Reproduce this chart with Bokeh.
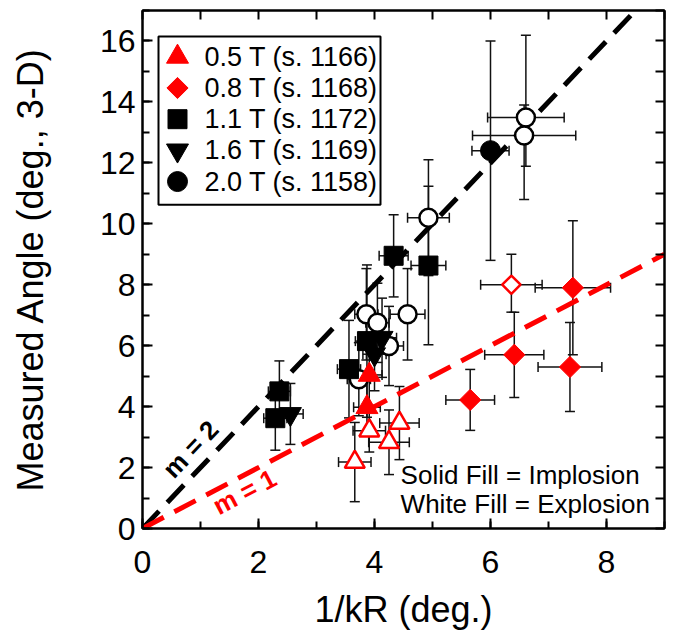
import math
from bokeh.plotting import figure
from bokeh.models import (ColumnDataSource, Whisker, TeeHead, Range1d, LinearAxis,
                          SingleIntervalTicker, Label, CustomJSTickFormatter)
from bokeh.core.properties import value
from bokeh.embed import file_html
from bokeh.resources import INLINE

FONT = "Liberation Sans"
RED = "#ff0000"
BLACK = "#000000"

# ---------------- data ----------------
labels = ["0.5 T (s. 1166)", "0.8 T (s. 1168)", "1.1 T (s. 1172)",
          "1.6 T (s. 1169)", "2.0 T (s. 1158)"]

x05 = [3.91, 3.87, 3.91, 4.43, 4.25, 3.66]
y05 = [5.04, 3.98, 3.21, 3.46, 2.83, 2.18]
xe05 = [0.22, 0.23, 0.28, 0.34, 0.35, 0.28]
ylo05 = [1.0, 0.9, 0.7, 1.2, 1.06, 1.3]
yhi05 = [1.0, 0.9, 0.7, 1.2, 1.06, 1.3]
open05 = [False, False, True, True, True, True]

x08 = [7.42, 6.41, 7.37, 5.65, 6.36]
y08 = [7.9, 5.70, 5.30, 4.22, 8.0]
xe08 = [0.65, 0.51, 0.55, 0.42, 0.53]
ylo08 = [2.2, 1.4, 1.46, 1.0, 0.9]
yhi08 = [2.2, 1.4, 1.46, 1.0, 1.0]
open08 = [False, False, False, False, True]

x11 = [2.36, 2.29, 3.56, 3.87, 4.33, 4.93]
y11 = [4.5, 3.62, 5.23, 6.15, 8.95, 8.63]
xe11 = [0.19, 0.2, 0.2, 0.2, 0.25, 0.3]
ylo11 = [1.0, 1.05, 1.6, 2.5, 1.35, 2.6]
yhi11 = [1.0, 1.05, 1.6, 2.5, 1.35, 2.6]
open11 = [False] * 6

x16 = [2.55, 4.13, 4.0]
y16 = [3.76, 6.26, 5.72]
xe16 = [0.22, 0.25, 0.2]
ylo16 = [1.0, 1.3, 1.2]
yhi16 = [1.0, 1.3, 1.2]
open16 = [False] * 3

x20 = [6.0, 6.61, 6.58, 4.93, 3.86, 4.57, 4.05, 4.25, 3.73]
y20 = [12.4, 13.49, 12.9, 10.2, 7.03, 7.03, 6.75, 5.99, 4.9]
xe20 = [0.32, 0.66, 0.89, 0.36, 0.2, 0.3, 0.2, 0.25, 0.2]
ylo20 = [3.6, 1.6, 2.1, 1.9, 1.5, 1.5, 1.3, 1.3, 1.2]
yhi20 = [3.6, 2.7, 1.0, 1.9, 1.5, 1.5, 1.3, 1.3, 1.2]
open20 = [False, True, True, True, True, True, True, True, True]

slopes = [2, 1]
slope_labels = ["m = 2", "m = 1"]
x_ref = [0, 9]

note1 = "Solid Fill = Implosion"
note2 = "White Fill = Explosion"
xlabel = "1/kR (deg.)"
ylabel = "Measured Angle (deg., 3-D)"

# ---------------- layout constants ----------------
W, H = 672, 632
BL, BR, BT, BB = 142, 8, 10, 102
FW, FH = W - BL - BR, H - BT - BB   # frame size in px

p = figure(width=W, height=H, x_range=Range1d(0, 9), y_range=Range1d(0, 17),
           output_backend="svg", toolbar_location=None,
           min_border_left=BL, min_border_right=BR, min_border_top=BT,
           min_border_bottom=BB)
p.grid.visible = False
p.outline_line_color = BLACK
p.outline_line_width = 2
p.background_fill_color = "white"
p.border_fill_color = "white"
# pixel-based helper ranges for the legend box (y measured downward from frame top)
p.extra_x_ranges = {"px": Range1d(0, FW)}
p.extra_y_ranges = {"px": Range1d(FH, 0)}

for ax, lab in ((p.xaxis[0], xlabel), (p.yaxis[0], ylabel)):
    ax.ticker = SingleIntervalTicker(interval=2, num_minor_ticks=2)
    ax.axis_label = lab
    ax.axis_label_text_font = FONT
    ax.axis_label_text_font_size = "36px"
    ax.axis_label_text_font_style = "normal"
    ax.axis_label_text_color = BLACK
    ax.major_label_text_font = FONT
    ax.major_label_text_font_size = "32px"
    ax.major_label_text_color = BLACK
    ax.major_tick_in = 10
    ax.major_tick_out = 0
    ax.minor_tick_in = 7
    ax.minor_tick_out = 0
    ax.major_tick_line_width = 2
    ax.minor_tick_line_width = 2
    ax.major_tick_line_color = BLACK
    ax.minor_tick_line_color = BLACK
    ax.axis_line_width = 2
    ax.axis_line_color = BLACK
p.xaxis[0].major_label_standoff = 22
p.xaxis[0].axis_label_standoff = 13
p.yaxis[0].major_label_standoff = 7
p.yaxis[0].axis_label_standoff = 46

for loc in ("above", "right"):
    ax = LinearAxis(ticker=SingleIntervalTicker(interval=1, num_minor_ticks=0),
                    formatter=CustomJSTickFormatter(code="return ''"),
                    major_label_standoff=0,
                    major_tick_in=9, major_tick_out=0, major_tick_line_width=2,
                    minor_tick_line_color=None, axis_line_width=2,
                    axis_line_color=BLACK, major_tick_line_color=BLACK)
    p.add_layout(ax, loc)

# reference lines
line_colors = [BLACK, RED]
for s, c in zip(slopes, line_colors):
    p.line(x=x_ref, y=[s * v for v in x_ref], line_color=c, line_width=5,
           line_dash="24 12", line_cap="butt")

# data series (legend order)
series = [
    (x05, y05, xe05, ylo05, yhi05, open05, "triangle", RED, 22, 0.0),
    (x08, y08, xe08, ylo08, yhi08, open08, "square", RED, 15, math.pi / 4),
    (x11, y11, xe11, ylo11, yhi11, open11, "square", BLACK, 19, 0.0),
    (x16, y16, xe16, ylo16, yhi16, open16, "inverted_triangle", BLACK, 22, 0.0),
    (x20, y20, xe20, ylo20, yhi20, open20, "circle", BLACK, 20, 0.0),
]
draw_order = [4, 2, 3, 1, 0]

for k in draw_order:
    xs, ys, xe, ylo, yhi, op, mk, col, sz, ang = series[k]
    src = ColumnDataSource(dict(
        x=xs, y=ys,
        xl=[a - e for a, e in zip(xs, xe)], xh=[a + e for a, e in zip(xs, xe)],
        yl=[a - e for a, e in zip(ys, ylo)], yh=[a + e for a, e in zip(ys, yhi)]))
    for dim, base, lo, hi in (("width", "y", "xl", "xh"), ("height", "x", "yl", "yh")):
        w = Whisker(source=src, base=base, lower=lo, upper=hi, dimension=dim,
                    line_color="#111111", line_width=1.5, level="underlay",
                    upper_head=TeeHead(size=10, line_width=1.5, line_color="#111111"),
                    lower_head=TeeHead(size=10, line_width=1.5, line_color="#111111"))
        p.add_layout(w)
    solid = ColumnDataSource(dict(x=[a for a, o in zip(xs, op) if not o],
                                  y=[b for b, o in zip(ys, op) if not o]))
    hollow = ColumnDataSource(dict(x=[a for a, o in zip(xs, op) if o],
                                   y=[b for b, o in zip(ys, op) if o]))
    p.scatter("x", "y", source=hollow, marker=mk, size=sz - 2, angle=ang,
              fill_color="white", line_color=col, line_width=2.5)
    p.scatter("x", "y", source=solid, marker=mk, size=sz, angle=ang,
              fill_color=col, line_color=col, line_width=1)

# ---------------- legend (drawn in frame pixel units) ----------------
LEG_L, LEG_T, LEG_R, LEG_B = 16, 26, 238, 195
ROW0, PITCH, MK_X, TXT_X = 46.5, 31.3, 35, 62
n = len(labels)
p.quad(left=[LEG_L], right=[LEG_R], top=[LEG_T], bottom=[LEG_B],
       x_range_name="px", y_range_name="px", fill_color="white",
       line_color=BLACK, line_width=2)
leg_src = ColumnDataSource(dict(
    x=[MK_X] * n, y=[ROW0 + i * PITCH for i in range(n)],
    tx=[TXT_X] * n, text=labels,
    marker=[s[6] for s in series], color=[s[7] for s in series],
    size=[s[8] for s in series], angle=[s[9] for s in series]))
p.scatter("x", "y", source=leg_src, marker="marker", size="size", angle="angle",
          fill_color="color", line_color="color", x_range_name="px",
          y_range_name="px")
p.text("tx", "y", text="text", source=leg_src, x_range_name="px", y_range_name="px",
       text_font=value(FONT), text_font_size=value("27px"), text_color=BLACK,
       text_baseline="middle", text_align="left")

# ---------------- annotations ----------------
p.add_layout(Label(x=4.45, y=1.76, text=note1, text_font=FONT, text_font_size="26px",
                   text_baseline="middle", text_align="left", text_color=BLACK))
p.add_layout(Label(x=4.45, y=0.82, text=note2, text_font=FONT, text_font_size="26px",
                   text_baseline="middle", text_align="left", text_color=BLACK))
p.add_layout(Label(x=0.83, y=2.6, text=slope_labels[0], text_font=FONT,
                   text_font_size="26px", text_font_style="bold", text_color=BLACK,
                   angle=46.5, angle_units="deg", text_align="center",
                   text_baseline="middle"))
p.add_layout(Label(x=1.76, y=1.2, text=slope_labels[1], text_font=FONT,
                   text_font_size="26px", text_font_style="bold", text_color=RED,
                   angle=27.8, angle_units="deg", text_align="center",
                   text_baseline="middle"))

open("out.html", "w").write(file_html(p, INLINE))
